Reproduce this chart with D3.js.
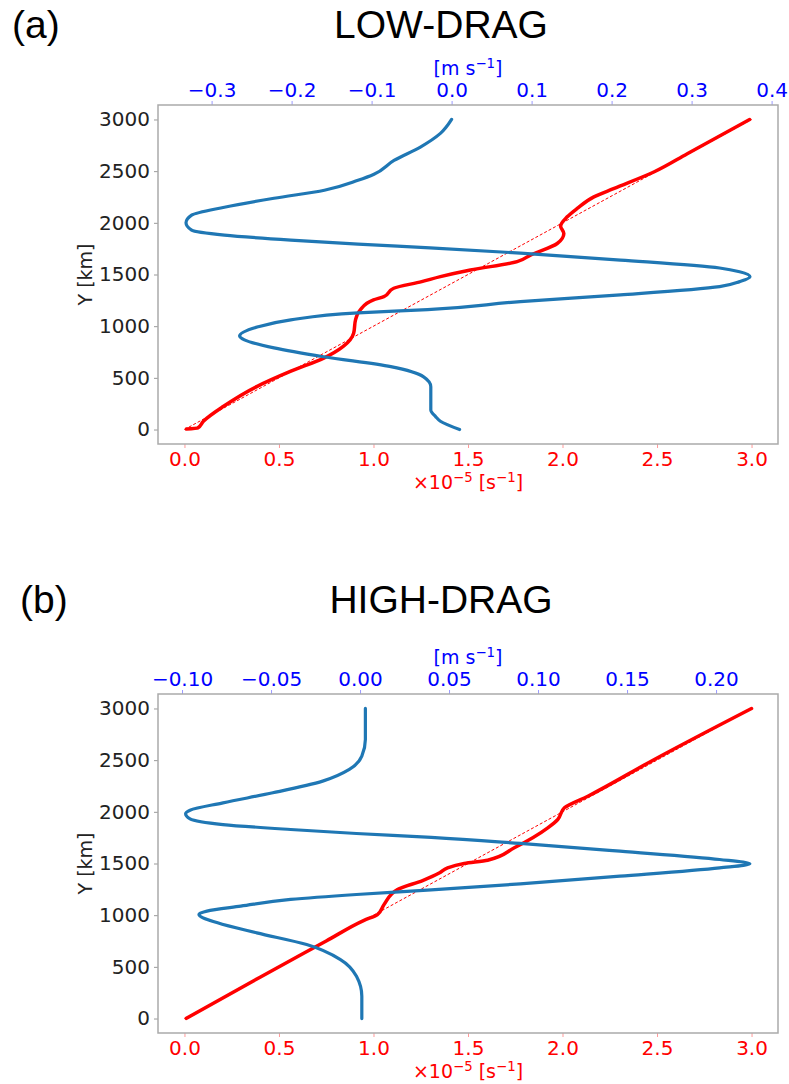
<!DOCTYPE html>
<html>
<head>
<meta charset="utf-8">
<script src="https://cdn.jsdelivr.net/npm/d3@7"></script>
<style>
  body { margin: 0; background: #fff; }
</style>
</head>
<body>
<svg id="fig" width="789" height="1084"></svg>
<script>
// tick values
const yTicks = [0, 500, 1000, 1500, 2000, 2500, 3000];
const redTicks = [0, 0.5, 1.0, 1.5, 2.0, 2.5, 3.0];
const lowBlueTicks = [-0.3, -0.2, -0.1, 0.0, 0.1, 0.2, 0.3, 0.4];
const highBlueTicks = [-0.10, -0.05, 0.00, 0.05, 0.10, 0.15, 0.20];

// LOW-DRAG, blue profile [m s-1] vs Y [km]
const lowBlueY = [0, 80, 125, 190, 290, 415, 510, 608, 704, 790, 868, 905, 994, 1061, 1129, 1160,
                  1238, 1302, 1382, 1431, 1479, 1527, 1563, 1640, 1707, 1757, 1794, 1833, 1881,
                  1929, 2000, 2074, 2151, 2238, 2315, 2411, 2470, 2604, 2733, 2865, 3000];
const lowBlueU = [0.010, -0.014, -0.020, -0.026, -0.026, -0.026, -0.035, -0.076, -0.160, -0.222,
                  -0.259, -0.265, -0.242, -0.201, -0.117, -0.030,
                  0.086, 0.211, 0.335, 0.360, 0.373, 0.360, 0.335, 0.211, 0.086, -0.027, -0.117,
                  -0.201, -0.284, -0.325, -0.332, -0.325, -0.284, -0.222, -0.159, -0.117, -0.097,
                  -0.072, -0.039, -0.014, 0.000];

// LOW-DRAG, red profile [x10^-5 s-1]
const lowRedY = [5, 15, 80, 225, 418, 562, 691, 804, 932, 1061, 1158, 1254, 1286, 1367, 1431,
                 1479, 1543, 1624, 1688, 1800, 1897, 1968, 2058, 2139, 2251, 2331, 2492, 2669, 3000];
const lowRedR = [0.01, 0.07, 0.10, 0.207, 0.385, 0.56, 0.737, 0.84, 0.895, 0.905, 0.93, 1.0, 1.055,
                 1.107, 1.255, 1.354, 1.513, 1.76, 1.83, 1.972, 2.007, 1.99, 2.025, 2.078, 2.166,
                 2.27, 2.483, 2.66, 2.99];

// HIGH-DRAG, blue profile
const highBlueY = [0, 216, 409, 571, 716, 829, 926, 1006, 1039, 1087, 1152, 1200, 1245, 1303, 1377,
                   1458, 1497, 1539, 1619, 1694, 1753, 1790, 1829, 1877, 1932, 1981, 2016, 2087,
                   2184, 2297, 2410, 2539, 2700, 3000];
const highBlueU = [0.001, 0.001, -0.002, -0.011, -0.030, -0.058, -0.080, -0.0905, -0.086, -0.067,
                   -0.039, -0.002, 0.040, 0.090, 0.146, 0.202, 0.219, 0.202, 0.146, 0.090, 0.040,
                   -0.002, -0.039, -0.077, -0.0955, -0.098, -0.0955, -0.077, -0.049, -0.021,
                   -0.006, 0.001, 0.003, 0.003];

// HIGH-DRAG, red profile
const highRedY = [2, 400, 750, 950, 1006, 1103, 1248, 1335, 1410, 1458, 1500, 1532, 1652, 1845,
                  1926, 2039, 2151, 2507, 3000];
const highRedR = [0.01, 0.40, 0.75, 0.95, 1.021, 1.056, 1.127, 1.26, 1.35, 1.392, 1.48, 1.604,
                  1.745, 1.922, 1.975, 2.01, 2.134, 2.486, 3.0];

// dashed reference line
const refY = [0, 3000];
const refR = [0.0, 3.0];

const svg = d3.select("#fig");
const left = 158, right = 778;
const tickFont = "'DejaVu Sans', sans-serif";

// text with superscripts: parts = [[text, isSup], ...]
function richText(g, parts, size, color) {
    const t = g.append("text")
        .style("font-family", tickFont)
        .style("font-size", size + "px")
        .attr("fill", color)
        .attr("text-anchor", "middle");
    let up = false;
    parts.forEach(p => {
        const s = t.append("tspan").text(p[0]);
        if (p[1] && !up) { s.attr("dy", -size * 0.36).style("font-size", (size * 0.7) + "px"); up = true; }
        else if (!p[1] && up) { s.attr("dy", size * 0.36); up = false; }
        else if (p[1]) s.style("font-size", (size * 0.7) + "px");
    });
    return t;
}

function drawPanel(p) {
    const g = svg.append("g");

    const x = d3.scaleLinear().domain([-0.14, 3.14]).range([left, right]);
    const xb = d3.scaleLinear().domain(p.blueDomain).range([left, right]);
    const y = d3.scaleLinear().domain([-140, 3140]).range([p.bottom, p.top]);

    // Y axis
    const ya = g.append("g")
        .attr("transform", "translate(" + left + ",0)")
        .call(d3.axisLeft(y).tickValues(yTicks).tickFormat(d3.format("d"))
            .tickSize(4).tickPadding(4).tickSizeOuter(0));
    ya.selectAll("text").attr("fill", "#222");
    ya.selectAll("line").attr("stroke", "#999");

    // bottom axis (red)
    const xa = g.append("g")
        .attr("transform", "translate(0," + p.bottom + ")")
        .call(d3.axisBottom(x).tickValues(redTicks).tickFormat(d3.format(".1f"))
            .tickSize(4).tickPadding(4).tickSizeOuter(0));
    xa.selectAll("text").attr("fill", "#ff0000");
    xa.selectAll("line").attr("stroke", "#f99");

    // top axis (blue)
    const ta = g.append("g")
        .attr("transform", "translate(0," + p.top + ")")
        .call(d3.axisTop(xb).tickValues(p.blueTicks).tickFormat(d3.format(p.blueFmt))
            .tickSize(4).tickPadding(4).tickSizeOuter(0));
    ta.selectAll("text").attr("fill", "#0000ff");
    ta.selectAll("line").attr("stroke", "#99f");

    g.selectAll(".domain").remove();
    g.selectAll(".tick text").style("font-family", tickFont).style("font-size", "20px");

    // frame
    g.append("rect")
        .attr("x", left).attr("y", p.top)
        .attr("width", right - left).attr("height", p.bottom - p.top)
        .attr("fill", "none").attr("stroke", "#aaa").attr("stroke-width", 1.5);

    // dashed reference
    g.append("path")
        .datum(refY)
        .attr("d", d3.line().x((d, i) => x(refR[i])).y(d => y(d)))
        .attr("fill", "none").attr("stroke", "#ff0000").attr("stroke-width", 1)
        .attr("stroke-dasharray", "3,2");

    // red profile
    g.append("path")
        .datum(p.redY)
        .attr("d", d3.line().curve(d3.curveMonotoneY).x((d, i) => x(p.redR[i])).y(d => y(d)))
        .attr("fill", "none").attr("stroke", "#ff0000").attr("stroke-width", 3.5)
        .attr("stroke-linejoin", "round").attr("stroke-linecap", "round");

    // blue profile
    g.append("path")
        .datum(p.blueY)
        .attr("d", d3.line().curve(d3.curveMonotoneY).x((d, i) => xb(p.blueU[i])).y(d => y(d)))
        .attr("fill", "none").attr("stroke", "#1f77b4").attr("stroke-width", 3.2)
        .attr("stroke-linejoin", "round").attr("stroke-linecap", "round");

    // axis labels
    g.append("text")
        .attr("transform", "translate(92," + ((p.top + p.bottom) / 2) + ") rotate(-90)")
        .attr("text-anchor", "middle")
        .style("font-family", tickFont).style("font-size", "19px")
        .attr("fill", "#222")
        .text("Y [km]");

    richText(g, [["[m s", false], ["\u22121", true], ["]", false]], 19, "#0000ff")
        .attr("x", (left + right) / 2).attr("y", p.top - 30);

    richText(g, [["\u00d710", false], ["\u22125", true], [" [s", false], ["\u22121", true], ["]", false]], 19, "#ff0000")
        .attr("x", (left + right) / 2).attr("y", p.bottom + 45);

    // panel letter and title
    g.append("text")
        .attr("x", p.letterX).attr("y", p.titleY)
        .style("font-family", "'Liberation Sans', Arial, sans-serif").style("font-size", "39px")
        .text(p.letter);
    g.append("text")
        .attr("x", 441).attr("y", p.titleY)
        .attr("text-anchor", "middle")
        .style("font-family", "'Liberation Sans', Arial, sans-serif").style("font-size", "39px")
        .text(p.title);
}

drawPanel({
    top: 105, bottom: 444, titleY: 38, letterX: 12,
    letter: "(a)", title: "LOW-DRAG",
    blueDomain: [-0.367, 0.408], blueTicks: lowBlueTicks, blueFmt: ".1f",
    blueY: lowBlueY, blueU: lowBlueU, redY: lowRedY, redR: lowRedR
});

drawPanel({
    top: 694, bottom: 1033, titleY: 613, letterX: 20,
    letter: "(b)", title: "HIGH-DRAG",
    blueDomain: [-0.1135, 0.2348], blueTicks: highBlueTicks, blueFmt: ".2f",
    blueY: highBlueY, blueU: highBlueU, redY: highRedY, redR: highRedR
});
</script>
</body>
</html>
